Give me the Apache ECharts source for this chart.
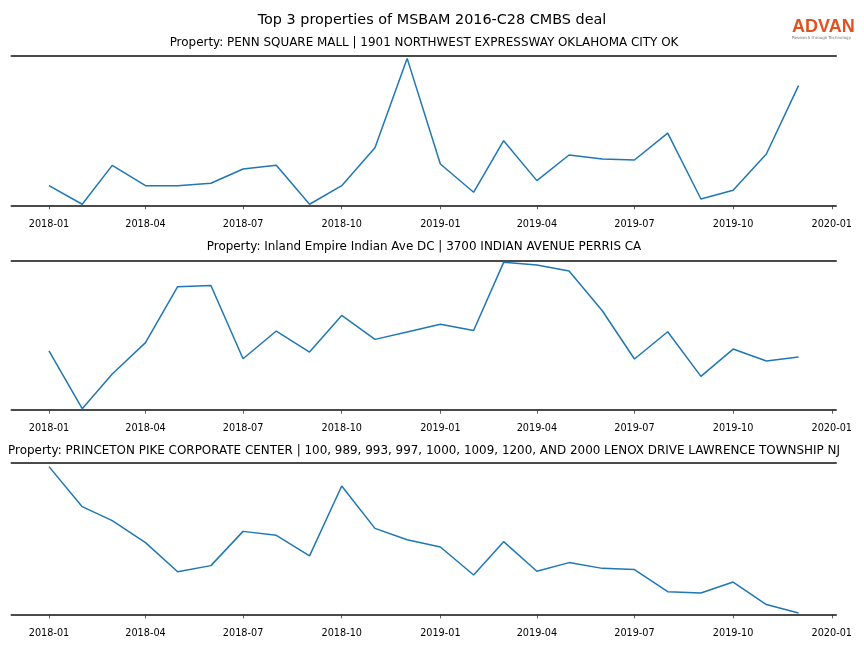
<!DOCTYPE html>
<html>
<head>
<meta charset="utf-8">
<script src="https://cdn.jsdelivr.net/npm/echarts@6/dist/echarts.min.js"></script>
<style>html,body{margin:0;padding:0;background:#fff;}#c{width:864px;height:648px;}</style>
</head>
<body>
<div id="c"></div>
<script>
const mainTitle = 'Top 3 properties of MSBAM 2016-C28 CMBS deal';
const panelTitles = [
  'Property: PENN SQUARE MALL | 1901 NORTHWEST EXPRESSWAY OKLAHOMA CITY OK',
  'Property: Inland Empire Indian Ave DC | 3700 INDIAN AVENUE PERRIS CA',
  'Property: PRINCETON PIKE CORPORATE CENTER | 100, 989, 993, 997, 1000, 1009, 1200, AND 2000 LENOX DRIVE LAWRENCE TOWNSHIP NJ'
];
const months = ['2018-01','2018-02','2018-03','2018-04','2018-05','2018-06','2018-07','2018-08','2018-09','2018-10','2018-11','2018-12',
                '2019-01','2019-02','2019-03','2019-04','2019-05','2019-06','2019-07','2019-08','2019-09','2019-10','2019-11','2019-12'];
const tickLabels = ['2018-01','2018-04','2018-07','2018-10','2019-01','2019-04','2019-07','2019-10','2020-01'];
const pennSquare = [13.1, 0.7, 26.7, 13.1, 13.1, 14.7, 24.3, 26.7, 0.7, 13.1, 38.5, 98.2,
                    27.6, 8.7, 43.2, 16.5, 33.6, 31.0, 30.3, 48.3, 4.2, 10.0, 34.3, 80.0];
const inlandEmpire = [39.4, 0.7, 24.0, 45.0, 82.6, 83.4, 34.2, 52.8, 38.7, 63.3, 47.2, 52.1,
                      57.3, 53.2, 98.9, 97.1, 93.1, 66.4, 34.0, 52.3, 22.4, 40.7, 32.7, 35.3];
const princeton = [97.4, 71.0, 61.8, 47.3, 28.1, 32.1, 54.7, 52.1, 38.5, 84.6, 56.7, 49.2,
                   44.4, 25.9, 47.9, 28.4, 34.1, 30.3, 29.5, 14.9, 14.1, 21.3, 6.4, 0.9];

const seriesValues = [pennSquare, inlandEmpire, princeton];
const toTs = s => { const p = s.split('-'); return Date.UTC(+p[0], +p[1] - 1, 1); };
const fmt = v => { const d = new Date(v); return d.getUTCFullYear() + '-' + String(d.getUTCMonth() + 1).padStart(2, '0'); };
const xs = months.map(toTs);
const span = xs[xs.length - 1] - xs[0];
const xMin = xs[0] - 0.05 * span;
const xMax = xs[xs.length - 1] + 0.05 * span;
const ticks = tickLabels.map(toTs);

const FONT = 'DejaVu Sans';
const spine = '#4a4a4a';
const layout = [
  {top: 55.7, height: 149.6, titleTop: 32},
  {top: 260.7, height: 149, titleTop: 236},
  {top: 462.7, height: 151.6, titleTop: 440}
];

const grids = [], xAxes = [], yAxes = [], series = [], titles = [];
titles.push({text: mainTitle, left: 427, top: 8, textAlign: 'center',
  textStyle: {fontFamily: FONT, fontSize: 14.4, fontWeight: 'normal', color: '#000'}});
layout.forEach((L, i) => {
  grids.push({left: 11.5, width: 824.5, top: L.top, height: L.height, containLabel: false});
  titles.push({text: panelTitles[i], left: 419, top: L.titleTop, textAlign: 'center',
    textStyle: {fontFamily: FONT, fontSize: 11.95, fontWeight: 'normal', color: '#000'}});
  const base = {type: 'value', gridIndex: i, min: xMin, max: xMax, splitLine: {show: false}};
  xAxes.push(Object.assign({}, base, {position: 'top',
    axisLine: {show: true, onZero: false, lineStyle: {color: spine, width: 2}},
    axisTick: {show: false}, axisLabel: {show: false}}));
  xAxes.push(Object.assign({}, base, {position: 'bottom',
    axisLine: {show: true, onZero: false, lineStyle: {color: spine, width: 2}},
    axisTick: {show: false}, axisLabel: {show: false}}));
  xAxes.push(Object.assign({}, base, {position: 'bottom', offset: 6,
    axisLine: {show: false},
    axisTick: {show: true, length: 4, customValues: ticks, lineStyle: {color: '#333', width: 0.8}},
    axisLabel: {show: true, customValues: ticks, formatter: fmt, margin: 8,
      fontFamily: FONT, fontSize: 9.7, color: '#000'}}));
  yAxes.push({type: 'value', gridIndex: i, min: 0, max: 100, show: false});
  series.push({type: 'line', xAxisIndex: i * 3 + 2, yAxisIndex: i,
    data: xs.map((x, k) => [x, seriesValues[i][k]]),
    showSymbol: false, symbol: 'none', lineStyle: {color: '#1f77b4', width: 1.5}, animation: false});
});

const chart = echarts.init(document.getElementById('c'), null, {renderer: 'canvas'});
chart.setOption({
  backgroundColor: '#fff',
  animation: false,
  title: titles,
  grid: grids,
  xAxis: xAxes,
  yAxis: yAxes,
  series: series,
  graphic: [
    {type: 'text', left: 792, top: 18, style: {text: 'ADVAN', fontFamily: 'Liberation Sans', fontSize: 18, fontWeight: 'bold', fill: '#e0521f'}},
    {type: 'text', left: 792, top: 36, style: {text: 'Research through Technology', fontFamily: FONT, fontSize: 4, fill: '#777'}}
  ]
});
</script>
</body>
</html>
